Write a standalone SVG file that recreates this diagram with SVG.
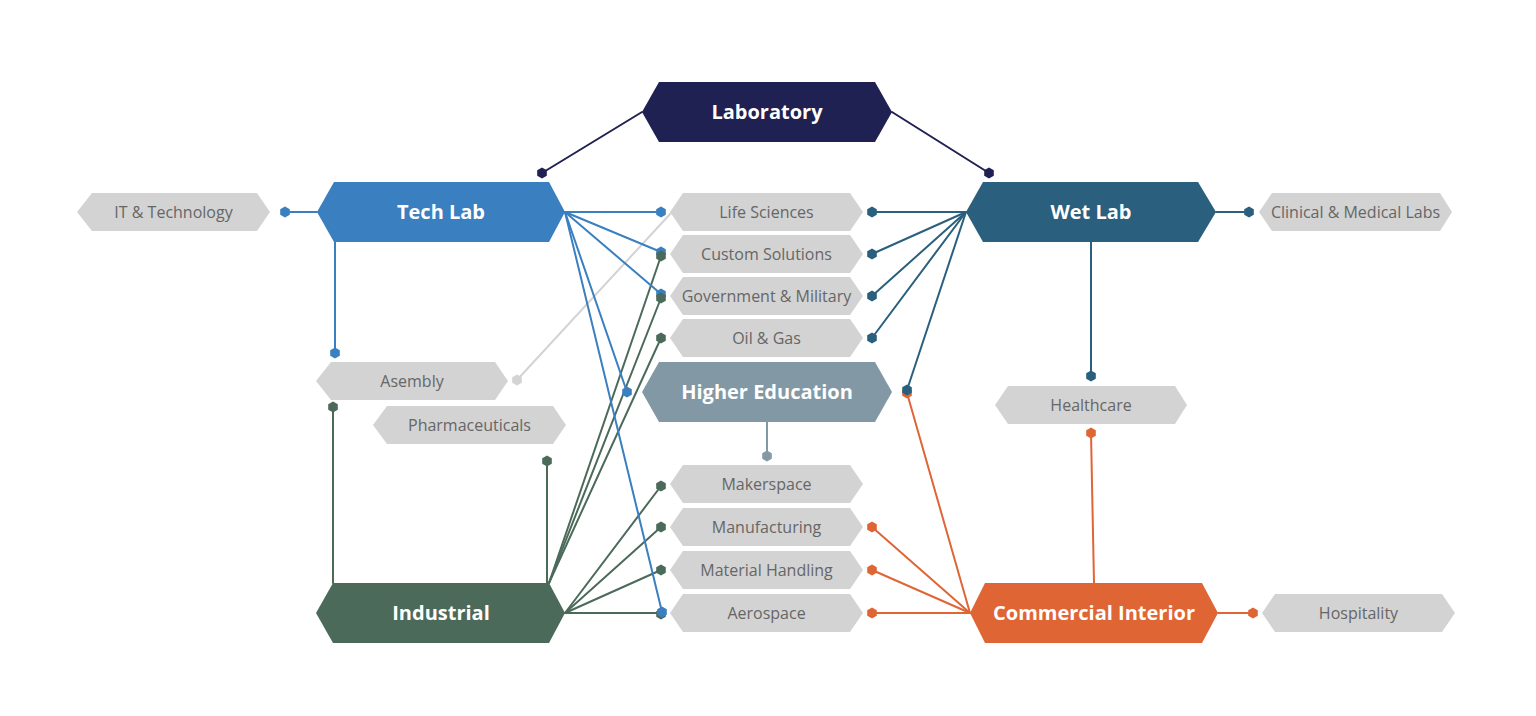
<svg xmlns="http://www.w3.org/2000/svg" xmlns:xlink="http://www.w3.org/1999/xlink" width="1536" height="716" viewBox="0 0 1536 716">
<style>
.ln{fill:none;stroke-width:2;stroke-linecap:round}
.mt{font-family:"Open Sans","Liberation Sans",sans-serif;font-weight:700;font-size:20px;fill:#fff;text-anchor:middle}
.gt{font-family:"Open Sans","Liberation Sans",sans-serif;font-size:16px;fill:#666;text-anchor:middle}
.gb{fill:#d3d3d3}
</style>
<defs>
<path id="dot" d="M0,-5.5 L4.8,-2.75 L4.8,2.75 L0,5.5 L-4.8,2.75 L-4.8,-2.75Z"/>
</defs>
<rect width="1536" height="716" fill="#fff"/>
<g id="connectors">
<g class="ln" stroke="#1f2152"><path d="M642,112 L542,173"/><path d="M892,112 L989,173"/></g>
<path class="ln" stroke="#d3d3d3" d="M517,380 L671,213"/>
<g class="ln" stroke="#4c6a5a">
<path d="M333,407 L333,583"/><path d="M547,461 L547,583"/>
<path d="M549,583 L661,256"/><path d="M549,583 L661,298"/><path d="M549,583 L661,338"/>
<path d="M565,613 L661,486"/><path d="M565,613 L661,527"/><path d="M565,613 L661,570"/><path d="M565,613 L661,613"/>
</g>
<g class="ln" stroke="#3a7fbf">
<path d="M285,212 L317,212"/><path d="M335,242 L335,353"/>
<path d="M565,212 L661,212"/><path d="M565,212 L661,252"/><path d="M565,212 L661,294"/>
<path d="M565,212 L627,392"/><path d="M565,212 L662,612"/>
</g>
<g class="ln" stroke="#2a5f7e">
<path d="M1216,212 L1249,212"/><path d="M1091,242 L1091,376"/>
<path d="M966,212 L872,212"/><path d="M966,212 L872,254"/><path d="M966,212 L872,296"/><path d="M966,212 L872,338"/>
<path d="M966,212 L907,390"/>
</g>
<path class="ln" stroke="#8299a5" d="M767,422 L767,456"/>
<g class="ln" stroke="#e06535">
<path d="M970,613 L872,527"/><path d="M970,613 L872,570"/><path d="M970,613 L872,613"/>
<path d="M970,613 L907,393"/><path d="M1094,583 L1091,433"/><path d="M1218,613 L1253,613"/>
</g>
</g>
<g id="laboratory"><polygon fill="#1f2152" points="642,112 659,82 875,82 892,112 875,142 659,142"/><text class="mt" x="767" y="119">Laboratory</text></g>
<g id="tech-lab"><polygon fill="#3a7fbf" points="317,212 334,182 549,182 565,212 549,242 334,242"/><text class="mt" x="441" y="219">Tech Lab</text></g>
<g id="wet-lab"><polygon fill="#2a5f7e" points="966,212 983,182 1198,182 1216,212 1198,242 983,242"/><text class="mt" x="1091" y="219">Wet Lab</text></g>
<g id="higher-education"><polygon fill="#8299a5" points="642,392 659,362 875,362 892,392 875,422 659,422"/><text class="mt" x="767" y="399">Higher Education</text></g>
<g id="industrial"><polygon fill="#4c6a5a" points="316,613 333,583 549,583 565,613 549,643 333,643"/><text class="mt" x="441" y="620">Industrial</text></g>
<g id="commercial-interior"><polygon fill="#e06535" points="970,613 985,583 1202,583 1218,613 1202,643 985,643"/><text class="mt" x="1094" y="620">Commercial Interior</text></g>
<g id="it-technology"><polygon class="gb" points="77,212 92,193 257,193 270,212 257,231 92,231"/><text class="gt" x="173.5" y="217.5">IT &amp; Technology</text></g>
<g id="clinical-medical-labs"><polygon class="gb" points="1259,212 1272,193 1440,193 1452,212 1440,231 1272,231"/><text class="gt" x="1355.5" y="217.5">Clinical &amp; Medical Labs</text></g>
<g id="asembly"><polygon class="gb" points="316,381 331,362 495,362 508,381 495,400 331,400"/><text class="gt" x="412" y="386.5">Asembly</text></g>
<g id="pharmaceuticals"><polygon class="gb" points="373,425 387,406 553,406 566,425 553,444 387,444"/><text class="gt" x="469.5" y="430.5">Pharmaceuticals</text></g>
<g id="healthcare"><polygon class="gb" points="995,405 1008,386 1175,386 1187,405 1175,424 1008,424"/><text class="gt" x="1091" y="410.5">Healthcare</text></g>
<g id="hospitality"><polygon class="gb" points="1262,613 1275,594 1442,594 1455,613 1442,632 1275,632"/><text class="gt" x="1358.5" y="618.5">Hospitality</text></g>
<g id="life-sciences"><polygon class="gb" points="670,212 683,193 850,193 863,212 850,231 683,231"/><text class="gt" x="766.5" y="217.5">Life Sciences</text></g>
<g id="custom-solutions"><polygon class="gb" points="670,254 683,235 850,235 863,254 850,273 683,273"/><text class="gt" x="766.5" y="259.5">Custom Solutions</text></g>
<g id="government-military"><polygon class="gb" points="670,296 683,277 850,277 863,296 850,315 683,315"/><text class="gt" x="766.5" y="301.5">Government &amp; Military</text></g>
<g id="oil-gas"><polygon class="gb" points="670,338 683,319 850,319 863,338 850,357 683,357"/><text class="gt" x="766.5" y="343.5">Oil &amp; Gas</text></g>
<g id="makerspace"><polygon class="gb" points="670,484 683,465 850,465 863,484 850,503 683,503"/><text class="gt" x="766.5" y="489.5">Makerspace</text></g>
<g id="manufacturing"><polygon class="gb" points="670,527 683,508 850,508 863,527 850,546 683,546"/><text class="gt" x="766.5" y="532.5">Manufacturing</text></g>
<g id="material-handling"><polygon class="gb" points="670,570 683,551 850,551 863,570 850,589 683,589"/><text class="gt" x="766.5" y="575.5">Material Handling</text></g>
<g id="aerospace"><polygon class="gb" points="670,613 683,594 850,594 863,613 850,632 683,632"/><text class="gt" x="766.5" y="618.5">Aerospace</text></g>
<g id="dots">
<use xlink:href="#dot" x="542" y="173" fill="#1f2152"/><use xlink:href="#dot" x="989" y="173" fill="#1f2152"/>
<use xlink:href="#dot" x="517" y="380" fill="#d3d3d3"/>
<use xlink:href="#dot" x="285" y="212" fill="#3a7fbf"/><use xlink:href="#dot" x="335" y="353" fill="#3a7fbf"/>
<use xlink:href="#dot" x="661" y="212" fill="#3a7fbf"/><use xlink:href="#dot" x="661" y="252" fill="#3a7fbf"/><use xlink:href="#dot" x="661" y="294" fill="#3a7fbf"/>
<use xlink:href="#dot" x="627" y="392" fill="#3a7fbf"/>
<use xlink:href="#dot" x="333" y="407" fill="#4c6a5a"/><use xlink:href="#dot" x="547" y="461" fill="#4c6a5a"/>
<use xlink:href="#dot" x="661" y="256" fill="#4c6a5a"/><use xlink:href="#dot" x="661" y="298" fill="#4c6a5a"/><use xlink:href="#dot" x="661" y="338" fill="#4c6a5a"/>
<use xlink:href="#dot" x="661" y="486" fill="#4c6a5a"/><use xlink:href="#dot" x="661" y="527" fill="#4c6a5a"/><use xlink:href="#dot" x="661" y="570" fill="#4c6a5a"/><use xlink:href="#dot" x="661" y="614" fill="#4c6a5a"/>
<use xlink:href="#dot" x="662" y="612" fill="#3a7fbf"/>
<use xlink:href="#dot" x="1249" y="212" fill="#2a5f7e"/><use xlink:href="#dot" x="1091" y="376" fill="#2a5f7e"/>
<use xlink:href="#dot" x="872" y="212" fill="#2a5f7e"/><use xlink:href="#dot" x="872" y="254" fill="#2a5f7e"/><use xlink:href="#dot" x="872" y="296" fill="#2a5f7e"/><use xlink:href="#dot" x="872" y="338" fill="#2a5f7e"/>
<use xlink:href="#dot" x="907" y="393" fill="#e06535"/><use xlink:href="#dot" x="907" y="390" fill="#2a5f7e"/>
<use xlink:href="#dot" x="767" y="456" fill="#8299a5"/>
<use xlink:href="#dot" x="872" y="527" fill="#e06535"/><use xlink:href="#dot" x="872" y="570" fill="#e06535"/><use xlink:href="#dot" x="872" y="613" fill="#e06535"/>
<use xlink:href="#dot" x="1091" y="433" fill="#e06535"/><use xlink:href="#dot" x="1253" y="613" fill="#e06535"/>
</g>
</svg>
